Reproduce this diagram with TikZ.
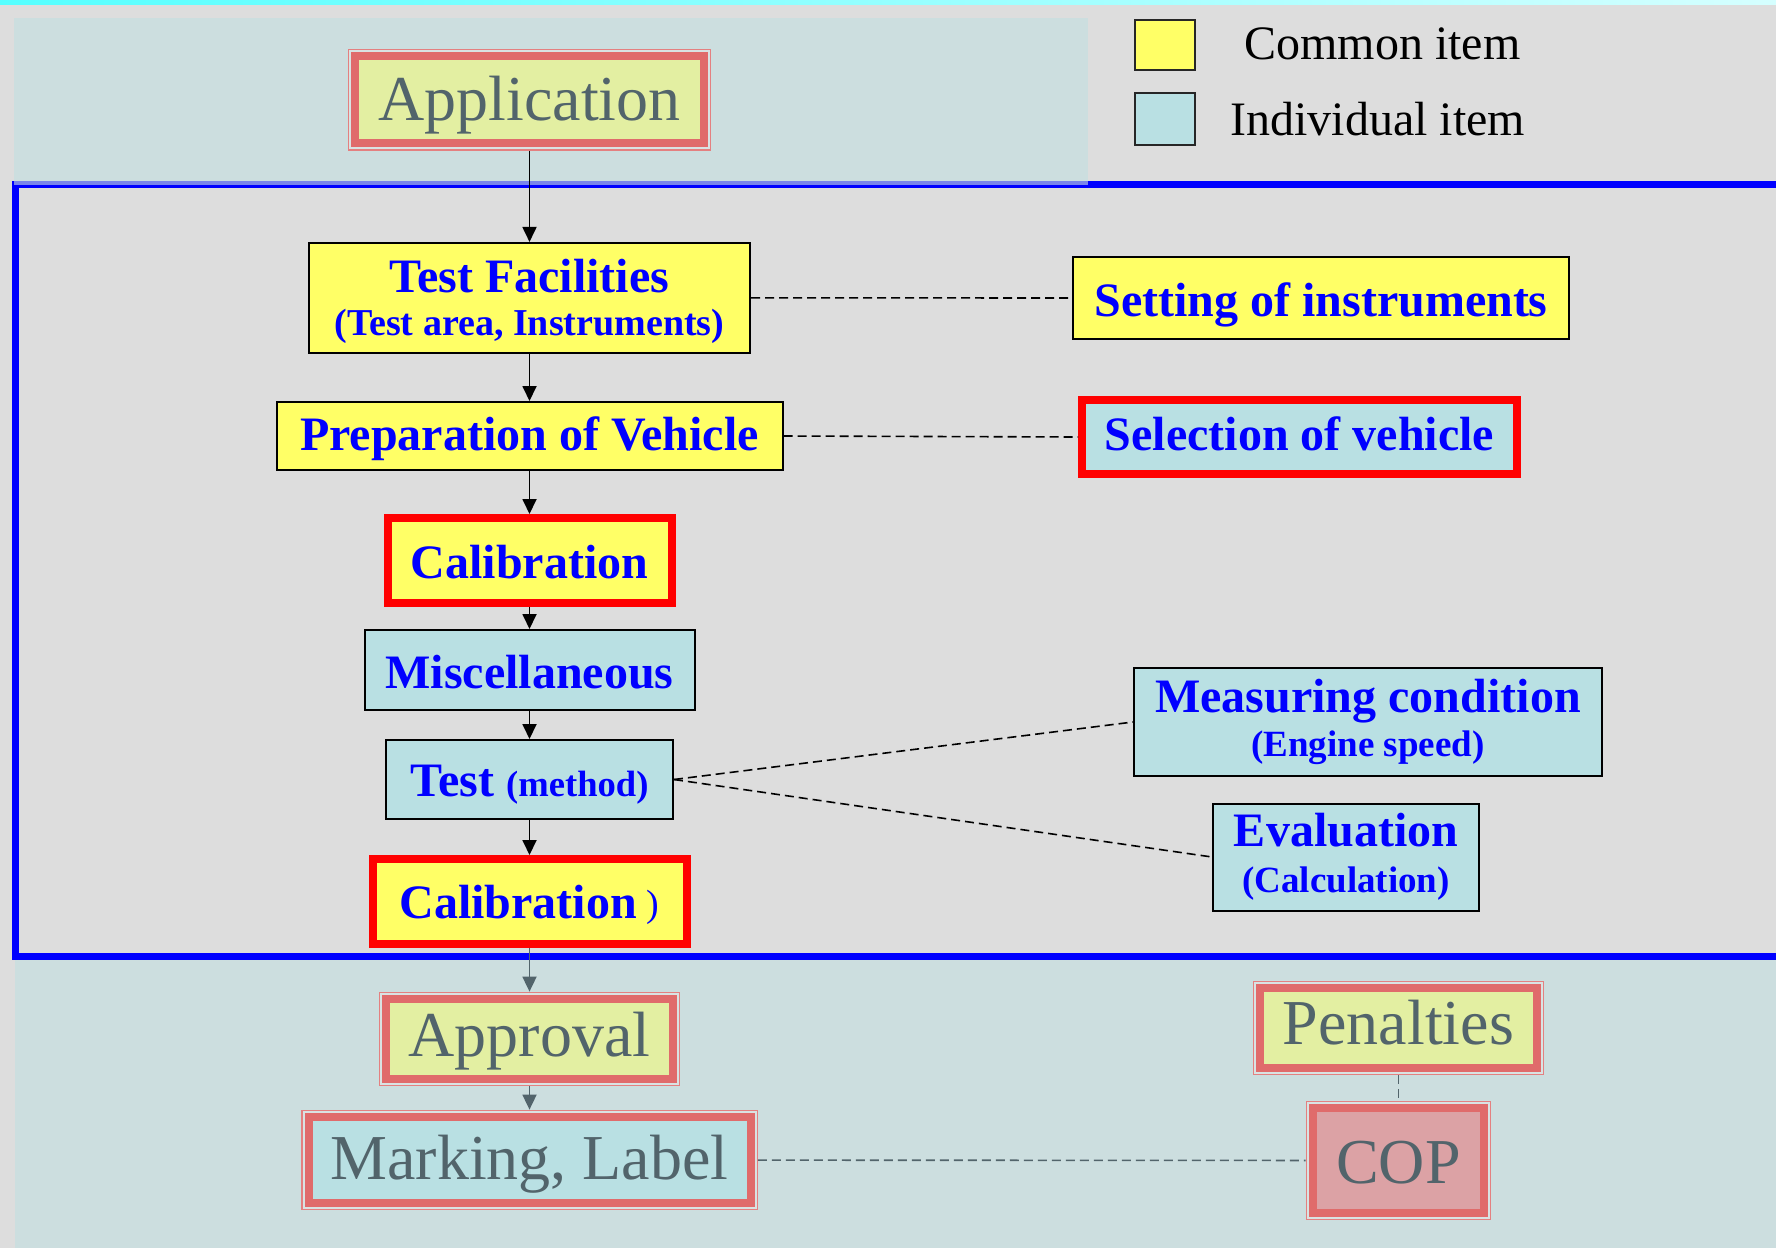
\documentclass[tikz,border=0pt]{standalone}
\usepackage{fontspec}
\setmainfont{Liberation Serif}
\usetikzlibrary{arrows.meta}
\definecolor{bggrey}{HTML}{DDDDDD}
\definecolor{panel}{HTML}{CCDEDF}
\definecolor{cyel}{HTML}{FFFF66}
\definecolor{ccyan}{HTML}{B9E0E3}
\definecolor{tblue}{HTML}{0000FF}
\definecolor{fadetext}{HTML}{52646B}
\definecolor{fadeband}{HTML}{E06B6B}
\definecolor{fadeouter}{HTML}{E48080}
\definecolor{fadegap}{HTML}{D9E3E3}
\definecolor{fadeyel}{HTML}{E3EFA2}
\definecolor{fadecop}{HTML}{DCA2A5}
\definecolor{stripL}{HTML}{55FFFF}
\definecolor{stripR}{HTML}{D5FFFF}
\tikzset{
  box/.style={draw=black, line width=1pt, inner sep=0pt, text=tblue,
    font=\bfseries\fontsize{24}{20}\selectfont, align=center},
  common/.style={box, fill=cyel},
  indiv/.style={box, fill=ccyan},
  redbox/.style={box, draw=red, line width=4pt},
  fade/.style={draw=fadeband, line width=4pt, inner sep=0pt, outer sep=3.7pt,
    text=fadetext, font=\fontsize{32}{32}\selectfont,
    preaction={draw=fadeouter, line width=7.4pt},
    preaction={draw=fadegap, line width=6pt}},
  bl/.style={text height=#1, text depth=0pt},
  flow/.style={line width=0.9pt, -{Triangle[width=7pt,length=7.5pt]}},
  fadeflow/.style={flow, draw=fadetext},
  link/.style={line width=0.8pt, dash pattern=on 4.5pt off 2.5pt},
  fadelink/.style={link, draw=fadetext},
  legbox/.style={draw=black!85, line width=1pt, minimum width=30pt, minimum height=25pt, inner sep=0pt},
  legtext/.style={anchor=base west, inner sep=0pt, font=\fontsize{24}{24}\selectfont, text=black}
}
\begin{document}
\begin{tikzpicture}[x=0.5pt,y=-0.5pt]
\useasboundingbox (0,0) rectangle (1776,1248);
% background
\fill[bggrey] (0,0) rectangle (1776,1248);
\shade[left color=stripL, right color=stripR] (0,0) rectangle (1776,4);
\fill[panel] (14,18) rectangle (1088,182);
\fill[panel] (15,960) rectangle (1776,1248);
\draw[tblue, line width=3.5pt] (1800,184.5) -- (15,184.5) -- (15,956) -- (1800,956);
\fill[panel, opacity=0.6] (14,181) rectangle (1088,185);

% legend
\node[legbox, fill=cyel] (legC) at (1164.5,45) {};
\node[legbox, fill=ccyan, minimum height=26pt] (legI) at (1164.5,119) {};
\node[legtext] (legCt) at (1244,59.3) {Common item};
\node[legtext] (legIt) at (1230,135) {Individual item};

% outer (faded) items
\node[fade, fill=fadeyel, minimum width=174.25pt, minimum height=43.5pt, bl=20.2pt] (app) at (529.5,99.8) {Application};
\node[fade, fill=fadeyel, minimum width=143.5pt, minimum height=40pt, bl=17.7pt] (appr) at (529.5,1039) {Approval};
\node[fade, fill=ccyan, minimum width=221pt, minimum height=43pt, bl=19pt] (mark) at (529.5,1160) {Marking, Label};
\node[fade, fill=fadeyel, minimum width=138.5pt, minimum height=40pt, bl=16pt] (pen) at (1398.5,1028) {Penalties};
\node[fade, fill=fadecop, minimum width=85.5pt, minimum height=52.5pt, bl=22.5pt] (cop) at (1398.5,1160.5) {COP};

% main column
\node[common, minimum width=220.5pt, minimum height=54.85pt] (tf) at (529.5,297.8)
  {\rule{0pt}{19.8pt}Test Facilities\\[1.5pt]{\fontsize{19}{20}\selectfont (Test area, Instruments)}};
\node[common, minimum width=253pt, minimum height=34pt, bl=14pt] (prep) at (529.5,436) {Preparation of Vehicle};
\node[redbox, fill=cyel, minimum width=142pt, minimum height=42.5pt, bl=17.5pt] (cal1) at (529.5,560.5) {Calibration};
\node[indiv, minimum width=165pt, minimum height=40pt, bl=18pt] (misc) at (529.5,670) {Miscellaneous};
\node[indiv, minimum width=143.5pt, minimum height=39.5pt, bl=16.5pt] (test) at (529.5,779.5)
  {Test {\fontsize{18.3}{18}\selectfont (method)}};
\node[redbox, fill=cyel, minimum width=157pt, minimum height=42.5pt, bl=16.5pt] (cal2) at (529.5,901.5)
  {Calibration\hspace{5pt}{\fontsize{19}{19}\selectfont\mdseries\raisebox{1pt}{)}}};

% right column
\node[common, minimum width=248pt, minimum height=41pt, bl=18pt] (set) at (1321,298) {Setting of instruments};
\node[redbox, fill=ccyan, minimum width=217.5pt, minimum height=36.7pt, bl=13.7pt] (sel) at (1299.5,437) {Selection of vehicle};
\node[indiv, minimum width=234pt, minimum height=54pt] (meas) at (1368,722)
  {Measuring condition\\[2pt]{\fontsize{18.5}{20}\selectfont (Engine speed)}};
\node[indiv, minimum width=133pt, minimum height=53.5pt] (eval) at (1346,857)
  {Evaluation\\[3pt]{\fontsize{18.5}{20}\selectfont (Calculation)}};

% connectors
\draw[flow] (app) -- (tf);
\draw[flow] (tf) -- (prep);
\draw[flow] (prep) -- (cal1);
\draw[flow] (cal1) -- (misc);
\draw[flow] (misc) -- (test);
\draw[flow] (test) -- (cal2);
\draw[fadeflow] (cal2) -- (appr);
\draw[fadeflow] (appr) -- (mark);
\draw[link] (tf.east) -- (set.west);
\draw[link] (prep.east) -- (sel.west);
\draw[link] (test.east) -- (meas.west);
\draw[link] (test.east) -- (eval.west);
\draw[fadelink] (pen) -- (cop);
\draw[fadelink] (mark) -- (cop);
\end{tikzpicture}
\end{document}
